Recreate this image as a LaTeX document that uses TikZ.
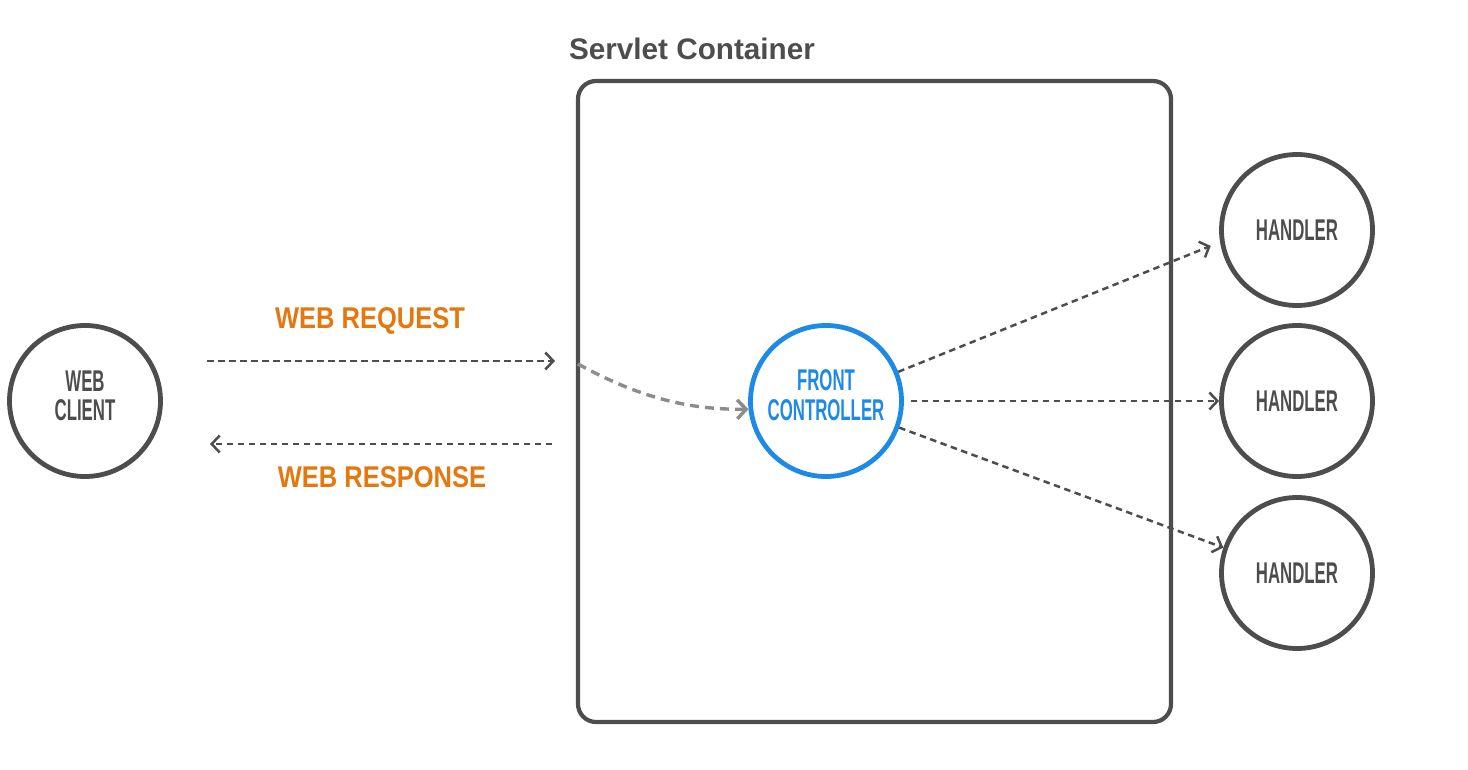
\documentclass[tikz,border=0pt]{standalone}
\usepackage{fontspec}
\setmainfont{Liberation Sans}
\newfontfamily\condfont[FakeStretch=0.56]{Liberation Sans Bold}
\newfontfamily\lblfont[FakeStretch=0.85]{Liberation Sans Bold}
\usetikzlibrary{arrows.meta}
\definecolor{dk}{HTML}{4D4D4D}
\definecolor{org}{HTML}{E4780F}
\definecolor{blu}{HTML}{1E8AE8}
\definecolor{lg}{HTML}{8C8C8C}
\begin{document}
\begin{tikzpicture}[x=1pt,y=-1pt,
  circ/.style={circle,draw=dk,line width=4.8pt,minimum size=151pt,inner sep=0pt,
    text=dk,align=center,font=\condfont\fontsize{30}{30}\selectfont},
  lbl/.style={text=org,font=\lblfont\fontsize{30}{30}\selectfont},
  darr/.style={draw=dk,line width=2.5pt,dash pattern=on 6.5pt off 4.5pt,
    -{Straight Barb[length=8pt,width=17pt,line width=2.5pt]}},
  garr/.style={draw=lg,line width=3.4pt,dash pattern=on 9pt off 6pt,
    -{Straight Barb[length=9pt,width=19pt,line width=3.4pt]}}
]
\useasboundingbox (0,0) rectangle (1468,770);
\node[draw=dk,line width=4.2pt,rounded corners=18pt,minimum width=593pt,minimum height=641pt,inner sep=0pt]
  (container) at (874.5,401.5) {};
\node[text=dk,font=\bfseries\fontsize{29.7}{32}\selectfont,anchor=base] (title) at (692,60) {Servlet Container};

\node[circ] (client) at (85,401) {};
\node[text=dk,align=center,font=\condfont\fontsize{30}{29}\selectfont] (clientT) at (85,396) {WEB\\CLIENT};
\node[circ,draw=blu] (front) at (826,401) {};
\node[text=blu,align=center,font=\condfont\fontsize{30}{30}\selectfont] (frontT) at (826,395) {FRONT\\CONTROLLER};
\node[circ] (h1) at (1297,230) {HANDLER};
\node[circ] (h2) at (1297,401) {HANDLER};
\node[circ] (h3) at (1297,573) {HANDLER};

\node[lbl] (req) at (370,321) {WEB REQUEST};
\node[lbl] (resp) at (382,477) {WEB RESPONSE};

\coordinate (reqS) at (207,361);
\coordinate (reqE) at (555,361);
\coordinate (resS) at (552,444);
\coordinate (resE) at (210,444);
\coordinate (cin) at (578,364);

\draw[darr] (reqS) -- (reqE);
\draw[darr] (resS) -- (resE);
\draw[garr] (cin) .. controls (640,398) and (690,410) .. (front.186);
\draw[darr,shorten >=10pt] (front.22) -- (h1.189);
\draw[darr,shorten <=7pt] (front.east) -- (h2.west);
\draw[darr] (front.340) -- (h3.161);
\end{tikzpicture}
\end{document}
